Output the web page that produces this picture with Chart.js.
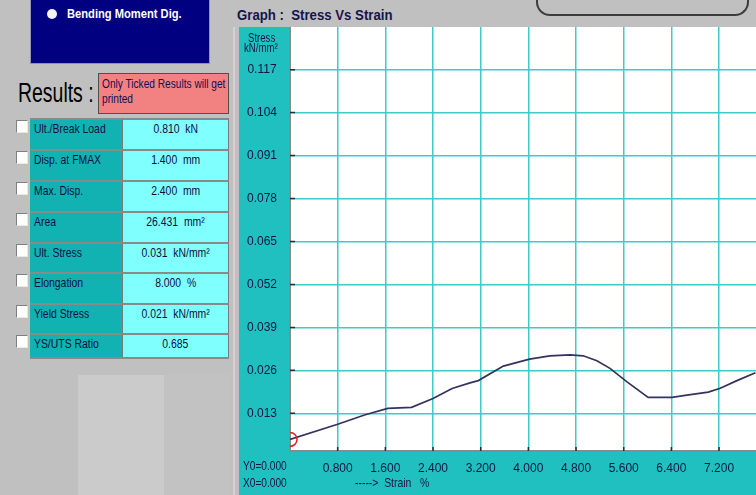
<!DOCTYPE html>
<html>
<head>
<meta charset="utf-8">
<script src="https://cdn.jsdelivr.net/npm/chart.js@4/dist/chart.umd.min.js"></script>
<style>
  html, body { margin:0; padding:0; }
  body { width:756px; height:495px; overflow:hidden; position:relative; background:#c0c0c0; font-family:'Liberation Sans', Arial, sans-serif; }
  .abs { position:absolute; }
  .sx { display:inline-block; white-space:nowrap; transform-origin:left center; }
  .sxc { display:inline-block; white-space:nowrap; transform-origin:center center; }
  #navy { left:30px; top:-2px; width:180px; height:66px; background:#000080; border:1px solid #9090b0; box-sizing:border-box; }
  #radio { left:47px; top:9px; width:10px; height:10px; border-radius:50%; background:#f4f4f4; }
  #bmd { left:67px; top:6px; color:#fff; font-weight:bold; font-size:12px; line-height:16px; }
  #results { left:18px; top:77px; font-size:27px; line-height:32px; color:#000; }
  #note { left:98px; top:73px; width:131px; height:41px; background:#f28282; border:1px solid #505050; box-sizing:border-box; color:#101050; font-size:13px; line-height:15px; padding:2px 0 0 3px; }
  .row { position:absolute; left:30px; width:199px; box-sizing:border-box; }
  .lab { position:absolute; left:0; top:0; width:92px; height:100%; background:#12b2b2; border-top:2px solid #8a8a8a; box-sizing:border-box; color:#0a1040; font-size:13px; line-height:18px; padding-left:4px; }
  .val { position:absolute; left:92px; top:0; width:107px; height:100%; background:#80ffff; border-top:2px solid #8a8a8a; border-left:1px solid #7a7a7a; border-right:1px solid #7a7a7a; box-sizing:border-box; color:#0a1040; font-size:13px; line-height:18px; text-align:center; }
  .chk { position:absolute; left:16px; width:12px; height:13px; background:#fff; border-top:1px solid #808080; border-left:1px solid #808080; border-right:1px solid #e8e8e8; border-bottom:1px solid #e8e8e8; box-sizing:border-box; }
  #tblbottom { left:30px; top:357px; width:199px; height:2px; background:#8a8a8a; }
  #lightblk { left:78px; top:375px; width:86px; height:120px; background:#cbcbcb; }
  #rightblk { left:164px; top:375px; width:66px; height:120px; background:#c2c2c2; }
  #vline { left:233px; top:27px; width:2px; height:468px; background:#d2d2d2; }
  #frame { left:536px; top:-22px; width:213px; height:38px; border:2px solid #3c3c3c; border-top:none; border-radius:0 0 14px 14px; box-sizing:border-box; }
  #gtitle { left:237px; top:6px; color:#141450; font-size:15px; font-weight:bold; line-height:18px; }
  #chartbox { left:239px; top:27px; width:517px; height:468px; }
  .navytxt { color:#141440; }
  #stress1 { left:248px; top:33px; font-size:12px; line-height:11px; }
  #stress2 { left:244px; top:43px; font-size:12px; line-height:11px; }
  #y0 { left:243px; top:458px; font-size:13px; line-height:16px; }
  #x0 { left:243px; top:475px; font-size:13px; line-height:16px; }
  #xlab { left:355px; top:475px; font-size:13px; line-height:16px; }
</style>
</head>
<body>
<div id="navy" class="abs"></div>
<div id="radio" class="abs"></div>
<div id="bmd" class="abs"><span class="sx" style="transform:scaleX(0.93)">Bending Moment Dig.</span></div>
<div id="results" class="abs"><span class="sx" style="transform:scaleX(0.72)">Results :</span></div>
<div id="note" class="abs"><span class="sx" style="transform:scaleX(0.78)">Only Ticked Results will get</span><br><span class="sx" style="transform:scaleX(0.78)">printed</span></div>
<div id="lightblk" class="abs"></div>
<div id="rightblk" class="abs"></div>
<div id="table"></div>
<div id="tblbottom" class="abs"></div>
<div id="vline" class="abs"></div>
<div id="frame" class="abs"></div>
<div id="gtitle" class="abs"><span class="sx" style="transform:scaleX(0.88)">Graph :&nbsp; Stress Vs Strain</span></div>
<div id="chartbox" class="abs"><canvas id="c" width="517" height="468"></canvas></div>
<div id="stress1" class="abs navytxt"><span class="sx" style="transform:scaleX(0.8)">Stress</span></div>
<div id="stress2" class="abs navytxt"><span class="sx" style="transform:scaleX(0.8)">kN/mm²</span></div>
<div id="y0" class="abs navytxt"><span class="sx" style="transform:scaleX(0.78)">Y0=0.000</span></div>
<div id="x0" class="abs navytxt"><span class="sx" style="transform:scaleX(0.78)">X0=0.000</span></div>
<div id="xlab" class="abs navytxt"><span class="sx" style="transform:scaleX(0.8)">-----&gt;&nbsp; Strain&nbsp;&nbsp; %</span></div>

<script>
// ---- Results table ----
const resultLabels = ["Ult./Break Load", "Disp. at FMAX", "Max. Disp.", "Area", "Ult. Stress", "Elongation", "Yield Stress", "YS/UTS Ratio"];
const resultValues = ["0.810  kN", "1.400  mm", "2.400  mm", "26.431  mm²", "0.031  kN/mm²", "8.000  %", "0.021  kN/mm²", "0.685"];

// ---- Chart data ----
const strain = [0, 0.80, 1.25, 1.64, 2.04, 2.40, 2.72, 3.02, 3.16, 3.58, 4.02, 4.36, 4.70, 4.92, 5.15, 5.37, 5.65, 6.01, 6.41, 6.66, 7.02, 7.22, 7.50, 7.81];
const stress = [0.0051, 0.0097, 0.0125, 0.0145, 0.0148, 0.0175, 0.0205, 0.0222, 0.0229, 0.0273, 0.0294, 0.0304, 0.0307, 0.0304, 0.0289, 0.0266, 0.0226, 0.0178, 0.0178, 0.0185, 0.0194, 0.0206, 0.0229, 0.0253];
const xTickValues = [0.8, 1.6, 2.4, 3.2, 4.0, 4.8, 5.6, 6.4, 7.2];
const xTickLabels = ["0.800", "1.600", "2.400", "3.200", "4.000", "4.800", "5.600", "6.400", "7.200"];
const yTickValues = [0.013, 0.026, 0.039, 0.052, 0.065, 0.078, 0.091, 0.104, 0.117];
const yTickLabels = ["0.013", "0.026", "0.039", "0.052", "0.065", "0.078", "0.091", "0.104", "0.117"];
const xRange = [0, 7.82];
const yRange = [0.0016, 0.1299];

// build table
const tbl = document.getElementById('table');
const rowTops = [118, 149, 180, 211, 241.5, 272, 302.5, 333, 358];
resultLabels.forEach((lab, i) => {
  const top = rowTops[i];
  const row = document.createElement('div');
  row.className = 'row';
  row.style.top = top + 'px';
  row.style.height = (rowTops[i + 1] - top) + 'px';
  row.innerHTML = '<div class="lab"><span class="sx" style="transform:scaleX(0.8)">' + lab + '</span></div>' +
                  '<div class="val"><span class="sxc" style="transform:scaleX(0.8)">' + resultValues[i].replace(/ /g, '&nbsp;') + '</span></div>';
  tbl.appendChild(row);
  const chk = document.createElement('div');
  chk.className = 'chk';
  chk.style.top = (top + 2) + 'px';
  tbl.appendChild(chk);
});

const TEAL = '#20c0c0';
const GRID = '#40c9c9';
const TXT = '#141440';
const FONT = { family: "'Liberation Sans', Arial, sans-serif", size: 12 };

const bgPlugin = {
  id: 'bg',
  beforeDraw(chart) {
    const { ctx, chartArea: a } = chart;
    ctx.save();
    ctx.fillStyle = TEAL;
    ctx.fillRect(0, 0, chart.width, chart.height);
    ctx.fillStyle = '#ffffff';
    ctx.fillRect(a.left, a.top, a.right - a.left, a.bottom - a.top);
    ctx.restore();
  }
};

const innerTicks = {
  id: 'innerTicks',
  afterDatasetsDraw(chart) {
    const { ctx, chartArea: a, scales } = chart;
    ctx.save();
    ctx.strokeStyle = '#2a2a40';
    ctx.lineWidth = 1.5;
    ctx.beginPath();
    scales.y.ticks.forEach(t => {
      const py = scales.y.getPixelForValue(t.value);
      ctx.moveTo(a.left, py); ctx.lineTo(a.left + 5, py);
    });
    scales.x.ticks.forEach(t => {
      const px = scales.x.getPixelForValue(t.value);
      ctx.moveTo(px, a.bottom); ctx.lineTo(px, a.bottom - 4);
    });
    ctx.stroke();
    ctx.restore();
  }
};

new Chart(document.getElementById('c'), {
  type: 'line',
  data: {
    datasets: [{
      data: strain.map((x, i) => ({ x: x, y: stress[i] })),
      borderColor: '#33335f',
      borderWidth: 1.7,
      tension: 0,
      fill: false,
      clip: 0,
      pointRadius: ctx => ctx.dataIndex === 0 ? 7 : 0,
      pointStyle: 'circle',
      pointBorderColor: '#e02020',
      pointBackgroundColor: 'rgba(0,0,0,0)',
      pointBorderWidth: 1.5,
      pointHoverRadius: 0
    }]
  },
  options: {
    responsive: false,
    maintainAspectRatio: false,
    animation: false,
    layout: { padding: 0, autoPadding: false },
    plugins: { legend: { display: false }, tooltip: { enabled: false }, title: { display: false } },
    scales: {
      x: {
        type: 'linear',
        min: xRange[0], max: xRange[1],
        afterBuildTicks: s => { s.ticks = xTickValues.map(v => ({ value: v })); },
        afterFit: s => { s.height = 44; s.paddingLeft = 0; s.paddingRight = 0; },
        grid: { color: GRID, lineWidth: 1.5, drawTicks: false },
        border: { display: true, color: '#8a8a8a', width: 2 },
        ticks: {
          color: TXT, font: FONT, padding: 10, maxRotation: 0, autoSkip: false,
          callback: (v) => { const i = xTickValues.indexOf(v); return i >= 0 ? xTickLabels[i] : ''; }
        }
      },
      y: {
        type: 'linear',
        min: yRange[0], max: yRange[1],
        afterBuildTicks: s => { s.ticks = yTickValues.map(v => ({ value: v })); },
        afterFit: s => { s.width = 51; s.paddingTop = 0; s.paddingBottom = 0; },
        grid: { color: GRID, lineWidth: 1.5, drawTicks: false },
        border: { display: true, color: '#8a8a8a', width: 2 },
        ticks: {
          color: TXT, font: FONT, padding: 13, crossAlign: 'center', autoSkip: false,
          callback: (v) => { const i = yTickValues.indexOf(v); return i >= 0 ? yTickLabels[i] : ''; }
        }
      }
    }
  },
  plugins: [bgPlugin, innerTicks]
});
</script>
</body>
</html>
